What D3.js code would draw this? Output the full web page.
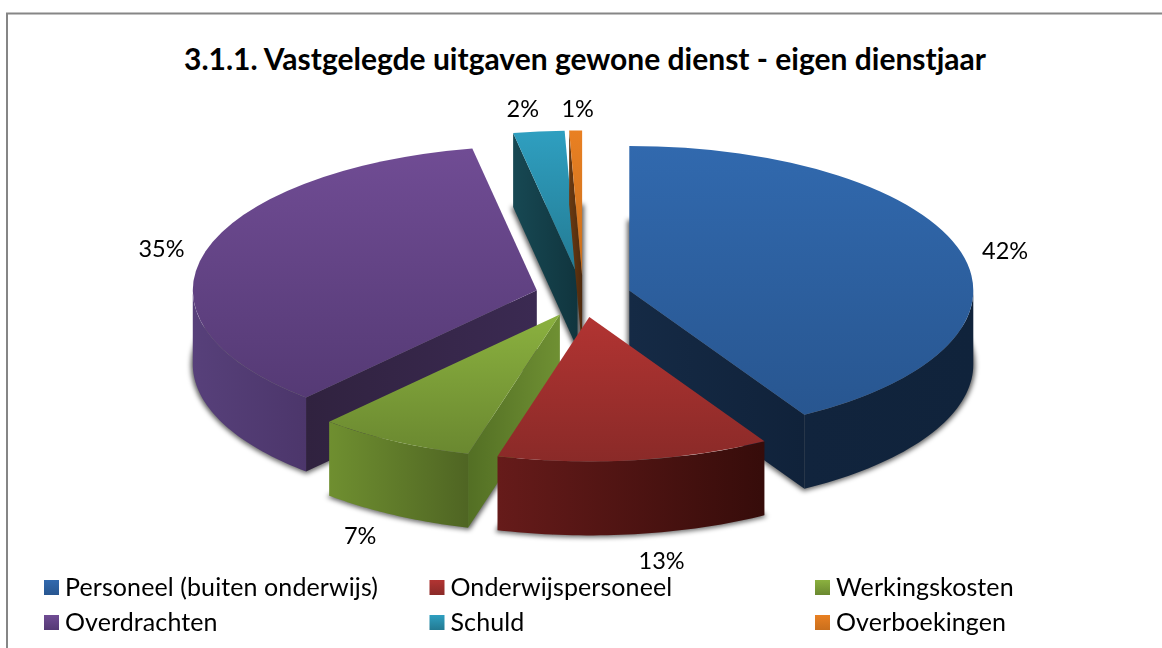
<!DOCTYPE html>
<html><head><meta charset="utf-8">
<script src="https://d3js.org/d3.v7.min.js"></script>
<style>html,body{margin:0;padding:0;background:#fff}svg{display:block}text{font-family:Lato,"Open Sans",sans-serif;fill:#000}</style>
</head><body><div id="c"></div>
<script>
const title = "3.1.1. Vastgelegde uitgaven gewone dienst - eigen dienstjaar";
const categories = ["Personeel (buiten onderwijs)","Onderwijspersoneel","Werkingskosten","Overdrachten","Schuld","Overboekingen"];
const shares = [41.5,12.8,7.4,35.3,2.4,0.6];
const labels = ["42%","13%","7%","35%","2%","1%"];
const topColors = [["#3169ae","#285690"],["#b23432","#8a2a28"],["#8bb13f","#6a8830"],["#704c94","#553a75"],["#2f9fc0","#237a92"],["#e98022","#c96f1d"]];
const outerColors = [["#11243d","#10233b"],["#661b1a","#360c0a"],["#6f8f30","#4f6523"],["#57407a","#4c366b"],["#17444f","#17444f"],["#5e3110","#5e3110"]];
const wallColors = [["#152a45","#10223a"],["#3a0e0c","#3a0e0c"],["#536f24","#6f9033"],["#30223f","#3b2a52"],["#174853","#10353e"],["#6a3a12","#4e2a0d"]];
const drawOrder = [3,4,5,0,2,1];
const labelNudge = [[44,-1],[27,27],[-34,21],[-44,-2],[-16,-22],[2,-21]];

const W=1162,H=648,cx=583,cy=296,R=344,k=0.42,ex=48,depth=74;
const svg=d3.select("#c").append("svg").attr("width",W).attr("height",H);
const defs=svg.append("defs");
defs.append("filter").attr("id","soft").attr("x","-10%").attr("y","-10%").attr("width","120%").attr("height","120%")
  .append("feGaussianBlur").attr("stdDeviation",2.5);
function grad(id,c,horizontal){
  const g=defs.append("linearGradient").attr("id",id).attr("x1",0).attr("y1",0)
    .attr("x2",horizontal?1:0).attr("y2",horizontal?0:1);
  g.append("stop").attr("offset",0).attr("stop-color",c[0]);
  g.append("stop").attr("offset",1).attr("stop-color",c[1]);
}
categories.forEach((_,i)=>{grad("t"+i,topColors[i],false);grad("o"+i,outerColors[i],true);grad("w"+i,wallColors[i],true);});

// frame
svg.append("path").attr("d",`M7,${H}V13.5H${W}`).attr("fill","none").attr("stroke","#868686").attr("stroke-width",2);
svg.append("text").attr("x",585).attr("y",70).attr("text-anchor","middle").attr("font-size",30).attr("font-weight",700).text(title);

const pie=d3.pie().sort(null).startAngle(0).endAngle(2*Math.PI);
const arcs=pie(shares);
const arcGen=d3.arc().innerRadius(0).outerRadius(R);
const P=(a,r=R)=>[r*Math.sin(a),-r*k*Math.cos(a)];
const line=d3.line();
const slices=arcs.map((d,i)=>{
  const mid=(d.startAngle+d.endAngle)/2;
  const [dx,dy]=P(mid,ex);
  return {d,i,mid,ax:cx+dx,ay:cy+dy*(0.44/k)};
});
// shadows
const sh=svg.append("g").attr("filter","url(#soft)");
slices.forEach(s=>{
  sh.append("path").attr("d",arcGen(s.d))
    .attr("transform",`translate(${s.ax},${s.ay+depth+1}) scale(1,${k})`)
    .attr("fill","#000").attr("fill-opacity",0.55).attr("stroke","#000").attr("stroke-opacity",0.55).attr("stroke-width",4);
});
const PI=Math.PI;
drawOrder.forEach(i=>{
  const s=slices[i],a0=s.d.startAngle,a1=s.d.endAngle;
  const g=svg.append("g").attr("transform",`translate(${s.ax},${s.ay})`);
  // radial wall
  const wa = Math.sin(a0)<0 ? a0 : (Math.sin(a1)>0 ? a1 : null);
  if(wa!==null){
    const p=P(wa);
    g.append("path").attr("d",line([[0,0],p,[p[0],p[1]+depth],[0,depth]])+"Z").attr("fill",`url(#w${i})`);
  }
  // outer wall
  const lo=Math.max(a0,PI/2),hi=Math.min(a1,3*PI/2);
  if(hi>lo){
    const n=40,pts=d3.range(n+1).map(j=>P(lo+(hi-lo)*j/n));
    const low=pts.map(p=>[p[0],p[1]+depth]).reverse();
    g.append("path").attr("d",line(pts.concat(low))+"Z").attr("fill",`url(#o${i})`);
  }
  // top
  g.append("path").attr("d",arcGen(s.d)).attr("transform",`scale(1,${k})`).attr("fill",`url(#t${i})`);
});
// value labels
slices.forEach((s,i)=>{
  const p=P(s.mid);
  const below=Math.cos(s.mid)<-0.5?depth:0;
  svg.append("text").attr("x",s.ax+p[0]+labelNudge[i][0]).attr("y",s.ay+p[1]+below+labelNudge[i][1]+8)
    .attr("text-anchor","middle").attr("font-size",23.5).text(labels[i]);
});
// legend
const colX=d3.scalePoint().domain([0,1,2]).range([44,815]);
const rowY=d3.scalePoint().domain([0,1]).range([580,615]);
categories.forEach((c,i)=>{
  const col=i%3,row=Math.floor(i/3);
  const x=colX(col),y=rowY(row);
  svg.append("rect").attr("x",x).attr("y",y).attr("width",15).attr("height",15).attr("fill",`url(#t${i})`);
  svg.append("text").attr("x",x+21).attr("y",y+15.5).attr("font-size",25).attr("letter-spacing",0.1).text(c);
});
</script></body></html>
